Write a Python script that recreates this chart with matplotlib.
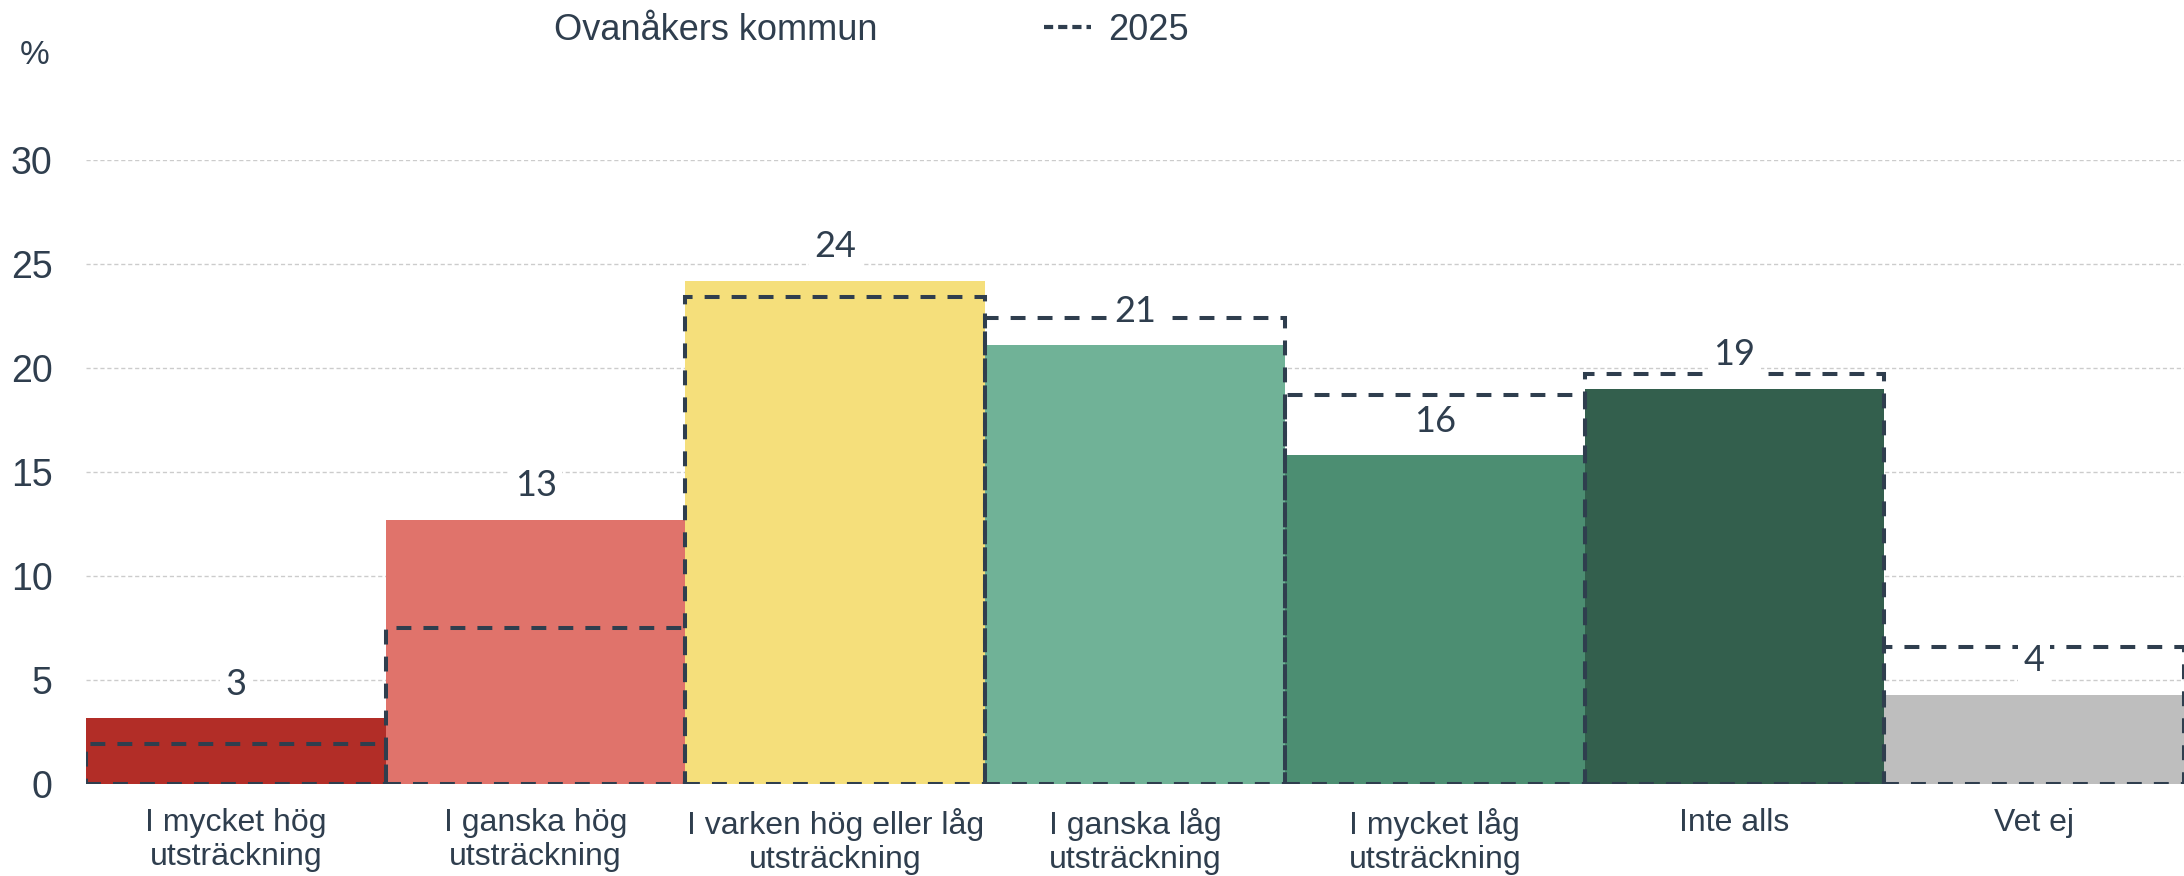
import matplotlib.pyplot as plt
from matplotlib.lines import Line2D
from matplotlib.patches import Patch

plt.rcParams['font.family'] = ['Liberation Sans', 'DejaVu Sans']

categories = ["I mycket hög\nutsträckning", "I ganska hög\nutsträckning",
              "I varken hög eller låg\nutsträckning", "I ganska låg\nutsträckning",
              "I mycket låg\nutsträckning", "Inte alls", "Vet ej"]
values = [3.15, 12.7, 24.2, 21.1, 15.8, 19.0, 4.3]
labels = ["3", "13", "24", "21", "16", "19", "4"]
values_2025 = [1.9, 7.5, 23.4, 22.4, 18.7, 19.7, 6.6]
colors = ["#b22d27", "#e0736b", "#f5df7b", "#70b297", "#4c8e72", "#335f4d", "#bebebe"]
yticks = [0, 5, 10, 15, 20, 25, 30]

text_col = "#2f3e4e"

fig = plt.figure(figsize=(21.84, 8.76), dpi=100)
ax = fig.add_axes([86/2184, 92/876, 1 - 86/2184, (784-160)/876])

x = list(range(len(categories)))
ax.bar(x, values, width=1.0, color=colors, zorder=2)
ax.bar(x, values_2025, width=1.0, fill=False, edgecolor=text_col,
       linewidth=2.9, linestyle=(0, (3.7, 3)), zorder=3)

for xi, v, lab in zip(x, values, labels):
    ax.annotate(lab, (xi, v), xytext=(0, 34), textcoords="offset pixels",
                ha="center", va="center", fontsize=26, color=text_col, zorder=5,
                family=["Lato", "DejaVu Sans"],
                bbox=dict(boxstyle="square,pad=0.15", fc="white", ec="none"))

ax.axhline(0, color="#d0d3d8", linewidth=3, zorder=1)

ax.set_xlim(-0.5, 6.5)
ax.set_ylim(0, 30)
ax.set_yticks(yticks)
ax.set_xticks(x)
ax.set_xticklabels(categories, fontsize=23, color=text_col, linespacing=1.2)
ax.tick_params(axis="x", length=0, pad=17)
ax.tick_params(axis="y", length=0, pad=24, labelsize=27, labelcolor=text_col)
ax.yaxis.grid(True, color="#cccccc", linestyle=(0, (3, 2)), linewidth=1, zorder=0)
ax.set_axisbelow(True)
for s in ax.spines.values():
    s.set_visible(False)

fig.text(35/2184, 1 - 56/876, "%", fontsize=24, color=text_col, ha="center", va="center")

handles = [Patch(facecolor="none", edgecolor="none"),
           Line2D([], [], color=text_col, linewidth=3, linestyle=(0, (2.2, 1.2)))]
fig.legend(handles, ["Ovanåkers kommun", "2025"], loc="center left",
           bbox_to_anchor=(489/2184, 1 - 30/876), ncol=2, frameon=False,
           fontsize=26, labelcolor=text_col, handlelength=1.3, handletextpad=0.5,
           columnspacing=4.6, borderpad=0, borderaxespad=0)

fig.savefig("out.png", dpi=100)
